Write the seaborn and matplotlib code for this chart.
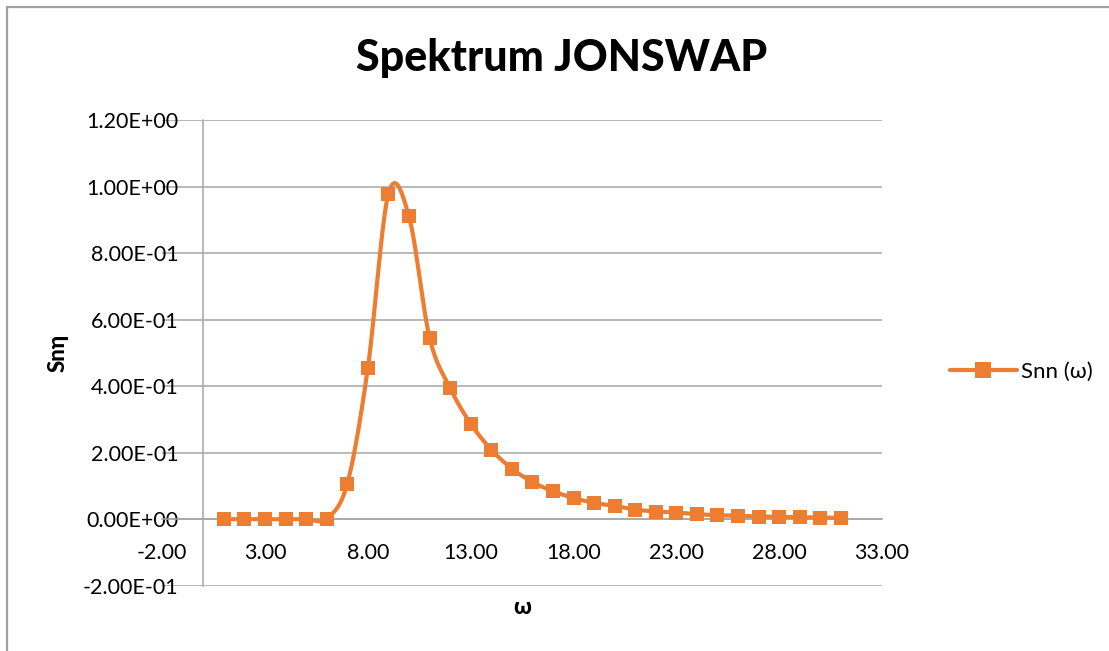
import numpy as np
import pandas as pd
import matplotlib
matplotlib.use("Agg")
import matplotlib.pyplot as plt
from matplotlib.lines import Line2D
from matplotlib.patches import Rectangle
import seaborn as sns

# ---- data ----
omega = list(range(1, 32))
snn = [0.0, 0.0, 0.0, 0.0, 0.0, 0.002, 0.107, 0.455, 0.978, 0.910,
       0.546, 0.394, 0.287, 0.209, 0.152, 0.112, 0.084, 0.064, 0.049, 0.040,
       0.029, 0.023, 0.020, 0.015, 0.012, 0.010, 0.008, 0.007, 0.006, 0.005,
       0.004]
title = "Spektrum JONSWAP"
xlabel = "ω"
ylabel = "Snη"
series_name = "Snn (ω)"
xticks = [-2, 3, 8, 13, 18, 23, 28, 33]
yticks = [-0.2, 0.0, 0.2, 0.4, 0.6, 0.8, 1.0, 1.2]

ORANGE = "#ED7D31"
GRID = "#A6A6A6"

sns.set_theme(style="white")
plt.rcParams["font.family"] = ["Lato", "DejaVu Sans"]
plt.rcParams["text.color"] = "black"

W, H = 1109, 651
fig = plt.figure(figsize=(W / 100, H / 100), dpi=100)
fig.patch.set_facecolor("white")

# chart border
fig.patches.append(Rectangle((6.5 / W, -0.1), 1.2, 1 - 7 / H + 0.1, transform=fig.transFigure,
                             fill=False, edgecolor="#A0A0A0", linewidth=1.6))

left, right, top, bottom = 162.2, 882, 120, 585.7
ax = fig.add_axes([left / W, 1 - bottom / H, (right - left) / W, (bottom - top) / H])

# Excel-style smoothed curve (Bezier with Catmull-Rom control points)
x = np.array(omega, dtype=float)
y = np.array(snn, dtype=float)
P = np.column_stack([x, y])
Pext = np.vstack([P[0], P, P[-1]])
t = np.linspace(0, 1, 25)
cx, cy = [], []
for i in range(len(P) - 1):
    p0, p1, p2, p3 = Pext[i], Pext[i + 1], Pext[i + 2], Pext[i + 3]
    b1 = p1 + (p2 - p0) / 6
    b2 = p2 - (p3 - p1) / 6
    tt = t[:, None]
    seg = ((1 - tt) ** 3) * p1 + 3 * ((1 - tt) ** 2) * tt * b1 + 3 * (1 - tt) * tt ** 2 * b2 + tt ** 3 * p2
    cx.extend(seg[:, 0]); cy.extend(seg[:, 1])
curve = pd.DataFrame({"x": cx, "y": cy})
sns.lineplot(data=curve, x="x", y="y", sort=False, color=ORANGE, linewidth=3, ax=ax, zorder=3)

df = pd.DataFrame({"omega": omega, "snn": snn})
sns.scatterplot(data=df, x="omega", y="snn", marker="s", s=10.5 ** 2, color=ORANGE,
                edgecolor=ORANGE, linewidth=0, ax=ax, zorder=4, clip_on=False)

ax.set_xlim(-2, 33)
ax.set_ylim(-0.2, 1.2)
ax.set_xticks(xticks)
ax.set_yticks(yticks)
ax.set_xticklabels([f"{v:.2f}" for v in xticks])
ax.set_yticklabels([f"{v:.2E}" for v in yticks])
ax.set_xlabel("")
ax.set_ylabel("")

ax.yaxis.grid(True, color=GRID, linewidth=1.1)
ax.xaxis.grid(False)
for s in ["top", "right"]:
    ax.spines[s].set_visible(False)
ax.spines["left"].set_position(("data", 0))
ax.spines["bottom"].set_position(("data", 0))
ax.spines["left"].set_color(GRID)
ax.spines["bottom"].set_color(GRID)
ax.spines["left"].set_linewidth(1.1)
ax.spines["bottom"].set_linewidth(1.1)
ax.set_axisbelow(True)
ax.tick_params(axis="both", length=0, labelsize=15.5, labelcolor="black")
ax.tick_params(axis="y", pad=18)
ax.tick_params(axis="x", pad=17)

fig.text(561.7 / W, 1 - 58 / H, title, ha="center", va="center", fontsize=31,
         fontweight="black", color="black")
fig.text(522 / W, 1 - 608 / H, xlabel, ha="center", va="center", fontsize=16,
         fontweight="black", color="black")
fig.text(58 / W, 1 - 353 / H, ylabel, ha="center", va="center", fontsize=16,
         fontweight="black", color="black", rotation=90)

handle = Line2D([], [], color=ORANGE, linewidth=3, marker="s", markersize=11, markeredgewidth=0)
fig.legend(handles=[handle], labels=[series_name], loc="center left",
           bbox_to_anchor=(950 / W, 1 - 372 / H), frameon=False, fontsize=16,
           handlelength=3.0, handletextpad=0.2, borderpad=0, borderaxespad=0,
           labelcolor="black")

fig.savefig("out.png", dpi=100)
